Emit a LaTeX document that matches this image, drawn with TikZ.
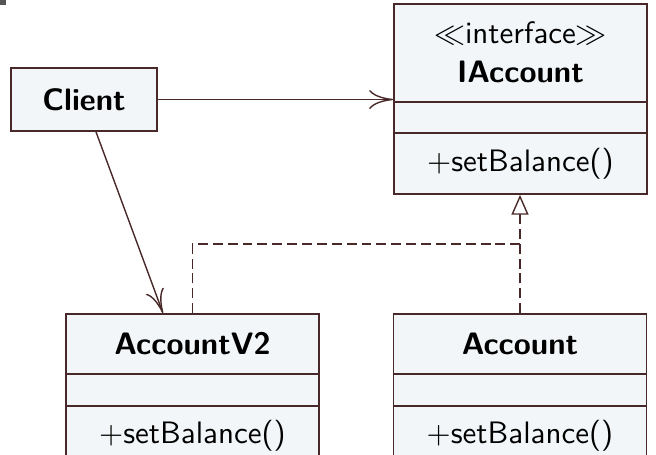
\documentclass[tikz,border=0pt]{standalone}
\usetikzlibrary{arrows.meta,calc}
\definecolor{umlline}{RGB}{72,40,40}
\definecolor{umlfill}{RGB}{243,246,248}
\definecolor{cornermark}{RGB}{85,85,85}
% one drawing unit
\def\pxu{0.32258pt}
\begin{document}
\begin{tikzpicture}[x=\pxu,y=-\pxu,
  font=\sffamily\fontsize{10}{12}\selectfont,
  classbox/.style={draw=umlline, fill=umlfill, line width=0.55pt, inner sep=0pt, rectangle, minimum width=253*\pxu},
  divider/.style={draw=umlline, line width=0.55pt},
  assoc/.style={draw=umlline, line width=0.45pt, -{To[length=7.7pt,width=6.1pt]}},
  realize/.style={draw=umlline, line width=0.45pt, dash pattern=on 3.2pt off 1.6pt},
  txt/.style={inner sep=0pt, text=black}]
\useasboundingbox (0,0) rectangle (656,454);
\clip (0,0) rectangle (656,454);

\fill[cornermark] (0,0) rectangle (6,5);

% Client
\node[classbox, minimum width=146*\pxu, minimum height=63*\pxu] (client) at (84,99.5) {\bfseries Client};

% IAccount interface
\node[classbox, minimum height=190*\pxu] (iacc) at (520.5,99) {};
\draw[divider] ($(iacc.north west)+(0,99)$) -- ($(iacc.north east)+(0,99)$);
\draw[divider] ($(iacc.north west)+(0,130)$) -- ($(iacc.north east)+(0,130)$);
\node[txt] (iaccstereo) at (520.5,33) {$\ll$interface$\gg$};
\node[txt] (iaccname) at (520.5,72) {\bfseries IAccount};
\node[txt] (iaccop) at (520.5,164) {$+$setBalance()};

% AccountV2
\node[classbox, minimum height=153*\pxu] (accv2) at (192.5,390.5) {};
\draw[divider] ($(accv2.north west)+(0,61)$) -- ($(accv2.north east)+(0,61)$);
\draw[divider] ($(accv2.north west)+(0,93)$) -- ($(accv2.north east)+(0,93)$);
\node[txt] (accv2name) at (192.5,344) {\bfseries AccountV2};
\node[txt] (accv2op) at (192.5,436) {$+$setBalance()};

% Account
\node[classbox, minimum height=153*\pxu] (acc) at (520,390.5) {};
\draw[divider] ($(acc.north west)+(0,61)$) -- ($(acc.north east)+(0,61)$);
\draw[divider] ($(acc.north west)+(0,93)$) -- ($(acc.north east)+(0,93)$);
\node[txt] (accname) at (520,344) {\bfseries Account};
\node[txt] (accop) at (520,436) {$+$setBalance()};

% associations
\draw[assoc] (client.east) -- (client.east -| iacc.west);
\draw[assoc] ($(client.south)+(12,0)$) -- ($(accv2.north)+(-29.5,0)$);

% realizations
\coordinate (bend) at ($(acc.north)+(0,-69)$);
\draw[realize] (accv2.north) |- (bend);
\draw[realize, -{Triangle[open, length=6.4pt, width=5.5pt, fill=white]}] (acc.north) -- (acc.north |- iacc.south);
\end{tikzpicture}
\end{document}
